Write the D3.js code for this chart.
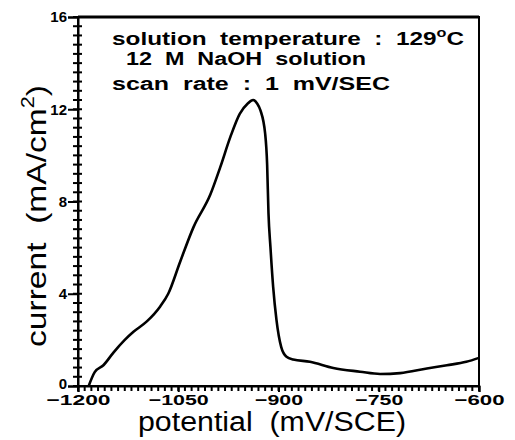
<!DOCTYPE html>
<html><head><meta charset="utf-8">
<script src="https://cdn.jsdelivr.net/npm/d3@7"></script>
<style>body{margin:0;background:#fff}svg{display:block}text{white-space:pre}</style>
</head><body>
<script>
// Data
const potential = [-1184,-1175,-1162,-1147,-1130,-1117,-1097,-1077,-1065,-1047,-1027,-1002,-987,-972,-958,-946,-938,-932,-927,-920,-917,-915,-912,-908,-903,-896,-888,-878,-853,-818,-778,-748,-718,-678,-648,-619,-600];
const current   = [0,0.6,0.9,1.45,2.0,2.35,2.8,3.45,4.0,5.4,6.9,8.3,9.5,10.8,11.8,12.25,12.4,12.25,11.95,10.95,9.6,7.5,6.0,4.3,2.86,1.7,1.27,1.15,1.05,0.78,0.62,0.52,0.56,0.76,0.9,1.05,1.22];
const xTicks = [-1200,-1050,-900,-750,-600];
const yTicks = [0,4,8,12,16];
const annotations = ["solution temperature : 129","12 M NaOH solution","scan rate : 1 mV/SEC"];

const W=515,H=440;
const m={left:78,right:36,top:17,bottom:54};
const FONT="Liberation Sans, Arial, sans-serif";
const svg=d3.select("body").append("svg").attr("width",W).attr("height",H);
const x=d3.scaleLinear().domain([-1200,-600]).range([m.left,W-m.right]);
const y=d3.scaleLinear().domain([0,16]).range([H-m.bottom,m.top]);

// frame
svg.append("rect").attr("x",x(-1200)).attr("y",y(16)).attr("width",x(-600)-x(-1200)).attr("height",y(0)-y(16))
  .attr("fill","none").attr("stroke","#000").attr("stroke-width",2);
svg.append("line").attr("x1",x(-1200)).attr("x2",x(-600)).attr("y1",y(16)).attr("y2",y(16))
  .attr("stroke","#000").attr("stroke-width",3);

// minor ticks
const xMinor=d3.range(-1200,-599,10);
svg.append("g").selectAll("line").data(xMinor).join("line")
  .attr("x1",d=>x(d)).attr("x2",d=>x(d)).attr("y1",y(0)).attr("y2",y(0)+5)
  .attr("stroke","#000").attr("stroke-width",2);
const yMinor=d3.range(0,16.01,0.4);
svg.append("g").selectAll("line").data(yMinor).join("line")
  .attr("x1",x(-1200)-5).attr("x2",x(-1200)+4).attr("y1",d=>y(d)).attr("y2",d=>y(d))
  .attr("stroke","#000").attr("stroke-width",2);

// axes
const xLabelW={"-1200":64,"-1050":60,"-900":48,"-750":48,"-600":50};
const xAxis=d3.axisBottom(x).tickValues(xTicks).tickSize(6).tickFormat(d=>"\u2212"+Math.abs(d));
const gx=svg.append("g").attr("transform",`translate(0,${y(0)})`).call(xAxis);
gx.select(".domain").attr("stroke-width",2);
gx.selectAll(".tick line").attr("stroke-width",2);
gx.selectAll("text").attr("font-family",FONT).attr("font-weight","bold")
  .attr("font-size",15).attr("y",8).attr("dy","0.72em").attr("fill","#000")
  .attr("textLength",d=>xLabelW[d]).attr("lengthAdjust","spacingAndGlyphs");

const yAxis=d3.axisLeft(y).tickValues(yTicks).tickSize(10).tickFormat(d3.format("d"));
const gy=svg.append("g").attr("transform",`translate(${x(-1200)},0)`).call(yAxis);
gy.select(".domain").attr("stroke-width",2);
gy.selectAll(".tick line").attr("stroke-width",2);
gy.selectAll("text").attr("font-family",FONT).attr("font-weight","bold")
  .attr("font-size",15).attr("x",-11).attr("dy",d=>d===0?"0.15em":"0.32em").attr("fill","#000");

// curve
const line=d3.line().x((d,i)=>x(potential[i])).y((d,i)=>y(current[i])).curve(d3.curveMonotoneX);
svg.append("path").datum(current).attr("d",line).attr("fill","none").attr("stroke","#000")
  .attr("stroke-width",2.6).attr("stroke-linejoin","round");

// annotations
const ann=svg.append("g").attr("font-family",FONT).attr("font-weight","bold").attr("font-size",18);
const a0=ann.append("text").attr("x",112).attr("y",45).attr("textLength",352).attr("lengthAdjust","spacingAndGlyphs");
a0.append("tspan").text(annotations[0].replace(/ /g,"  "));
a0.append("tspan").attr("dy",-8).attr("font-size",12).text("o");
a0.append("tspan").attr("dy",8).text("C");
ann.append("text").attr("x",126).attr("y",65).attr("textLength",240).attr("lengthAdjust","spacingAndGlyphs").text(annotations[1].replace(/ /g,"  "));
ann.append("text").attr("x",112).attr("y",90).attr("textLength",278).attr("lengthAdjust","spacingAndGlyphs").text(annotations[2].replace(/ /g,"  "));

// axis titles
svg.append("text").attr("x",272).attr("y",431).attr("text-anchor","middle")
  .attr("font-family",FONT).attr("font-size",27)
  .attr("textLength",268).attr("lengthAdjust","spacingAndGlyphs").text("potential  (mV/SCE)");
const yt=svg.append("text").attr("transform","translate(46,216) rotate(-90)").attr("text-anchor","middle")
  .attr("font-family",FONT).attr("font-size",28)
  .attr("textLength",262).attr("lengthAdjust","spacingAndGlyphs");
yt.append("tspan").text("current  (mA/cm");
yt.append("tspan").attr("dy",-12).attr("font-size",18).text("2");
yt.append("tspan").attr("dy",12).text(")");
</script>
</body></html>
